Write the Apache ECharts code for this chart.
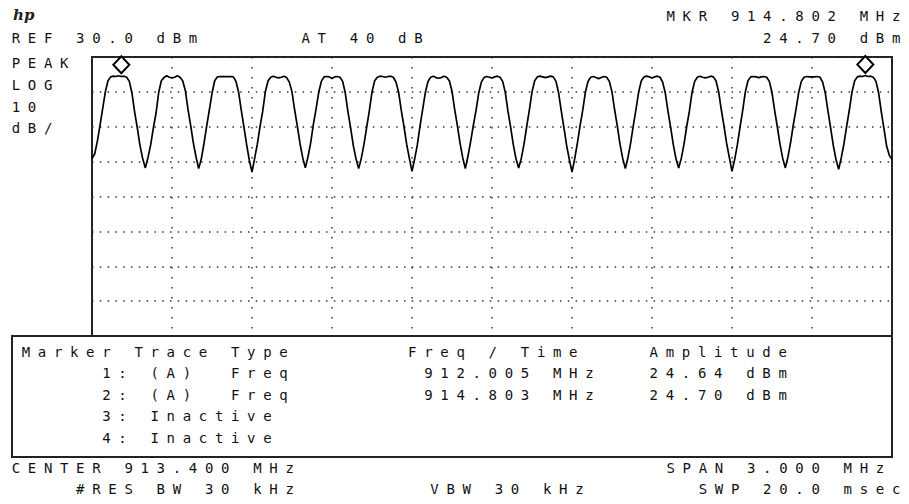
<!DOCTYPE html>
<html>
<head>
<meta charset="utf-8">
<script src="https://cdn.jsdelivr.net/npm/echarts@6/dist/echarts.min.js"></script>
<style>
html, body { margin: 0; padding: 0; background: #fff; }
#chart { width: 909px; height: 504px; }
#chart text { letter-spacing: 7.67px; white-space: pre; }
#chart text[style*="Serif"] { letter-spacing: 0; }
</style>
</head>
<body>
<div id="chart"></div>
<script>
// ---- sweep settings (CENTER 913.400 MHz, SPAN 3.000 MHz) ----
const sweepStartMHz = 911.9;
const sweepStepMHz = 0.01;
const refLevelDbm = 30;
const dbPerDiv = 10;
const verticalDivs = 8;
const horizontalDivs = 10;

// ---- trace amplitude, dBm, one value per 10 kHz from 911.90 to 914.90 MHz ----
const amplitudeDbm = [
  0.9, 2.2, 5.8, 10.4, 15.2, 20.0, 23.2, 24.3, 24.5, 24.4, 24.64, 24.4, 24.5, 24.2, 23.0, 19.6, 14.2, 9.6, 4.6, 0.9,
  -1.8, 1.2, 4.8, 9.6, 13.8, 19.8, 23.2, 24.1, 24.6, 24.2, 24.0, 24.2, 24.6, 24.2, 23.2, 20.4, 15.0, 10.4, 5.4, 1.4,
  -2.0, 0.8, 5.2, 10.2, 14.8, 19.6, 23.2, 24.3, 24.4, 24.4, 24.4, 24.4, 24.4, 24.3, 23.0, 19.8, 14.6, 9.8, 4.8, 0.4,
  -3.0, 1.0, 5.0, 10.0, 14.4, 20.0, 23.1, 24.2, 24.5, 24.2, 24.0, 24.2, 24.5, 24.1, 22.8, 20.0, 14.8, 10.2, 5.2, 1.2,
  -1.8, 1.4, 5.4, 10.6, 15.0, 19.8, 23.0, 24.3, 24.4, 24.3, 23.8, 24.3, 24.4, 24.2, 23.0, 19.6, 14.2, 9.6, 4.6, 0.8,
  -2.0, 1.0, 5.0, 9.8, 14.6, 20.0, 23.2, 24.2, 24.5, 24.4, 24.2, 24.4, 24.5, 24.2, 22.8, 19.8, 14.6, 10.0, 5.0, 1.0,
  -2.8, 0.8, 4.8, 10.2, 15.0, 19.8, 23.0, 24.2, 24.5, 24.1, 23.9, 24.1, 24.5, 24.2, 23.2, 20.2, 15.0, 10.4, 5.4, 1.2,
  -2.0, 1.6, 5.8, 10.4, 14.6, 19.6, 22.8, 24.1, 24.4, 24.2, 24.0, 24.3, 24.5, 24.2, 23.0, 19.8, 14.4, 9.8, 4.8, 0.8,
  -1.8, 1.0, 5.0, 10.0, 14.8, 20.0, 23.2, 24.3, 24.5, 24.3, 24.1, 24.3, 24.5, 24.3, 23.0, 19.6, 14.4, 9.6, 4.6, 0.6,
  -3.0, 0.8, 5.2, 10.2, 14.6, 19.8, 23.0, 24.2, 24.4, 24.1, 23.8, 24.1, 24.4, 24.2, 23.0, 20.0, 14.8, 10.2, 5.0, 1.0,
  -2.0, 1.2, 5.4, 10.4, 15.0, 20.0, 23.2, 24.3, 24.5, 24.3, 24.0, 24.3, 24.5, 24.2, 22.8, 19.6, 14.4, 9.8, 4.8, 0.8,
  -1.8, 1.0, 5.0, 10.0, 14.4, 19.8, 23.0, 24.2, 24.5, 24.2, 24.0, 24.2, 24.5, 24.3, 23.2, 20.0, 14.8, 10.2, 5.2, 1.2,
  -2.8, 0.6, 4.8, 9.8, 14.6, 20.0, 23.2, 24.3, 24.4, 24.3, 24.1, 24.3, 24.4, 24.2, 23.0, 19.8, 14.6, 10.0, 5.0, 1.0,
  -1.8, 1.4, 5.6, 10.6, 15.0, 19.8, 23.0, 24.2, 24.4, 24.3, 24.3, 24.3, 24.4, 24.2, 22.8, 19.6, 14.4, 9.6, 4.6, 0.6,
  -2.2, 1.2, 5.2, 10.2, 14.8, 20.0, 23.2, 24.3, 24.5, 24.4, 24.70, 24.4, 24.5, 24.2, 23.0, 19.6, 14.2, 9.4, 4.4, 1.8,
  0.6
];

// ---- markers ----
const markerFreqMHz = [912.005, 914.803];
const markerAmpDbm = [24.64, 24.70];

// ---- screen annotations ----
const headerTexts = ['REF 30.0 dBm', 'AT 40 dB'];
const markerReadout = ['MKR 914.802 MHz', '24.70 dBm'];
const scaleTexts = ['PEAK', 'LOG', '10', 'dB/'];
const tableHeader = ['Marker', 'Trace', 'Type', 'Freq / Time', 'Amplitude'];
const tableMarkers = ['1:', '2:', '3:', '4:'];
const tableTraces = ['(A)', '(A)', 'Inactive', 'Inactive'];
const tableTypes = ['Freq', 'Freq', '', ''];
const tableFreqs = ['912.005 MHz', '914.803 MHz', '', ''];
const tableAmps = ['24.64 dBm', '24.70 dBm', '', ''];
const footerLeft = ['CENTER 913.400 MHz', '#RES BW 30 kHz'];
const footerMid = ['VBW 30 kHz'];
const footerRight = ['SPAN 3.000 MHz', 'SWP 20.0 msec'];

// ---- build ----
const freqCategories = amplitudeDbm.map((_, i) => (sweepStartMHz + i * sweepStepMHz).toFixed(2));
const pointsPerDiv = (amplitudeDbm.length - 1) / horizontalDivs;
const minDbm = refLevelDbm - dbPerDiv * verticalDivs;

const FONT = '14px "DejaVu Sans Mono"';
const PITCH = 16.1;
const X0 = 11.7;     // screen character grid origin
const XT = 21.7;     // table character grid origin
const XEND = 908;    // right end of right-justified screen text
function txt(s, x, y) {
  return {
    type: 'text', x: x, y: y, z: 100, silent: true,
    style: { text: s, font: FONT, fill: '#111', align: 'left', verticalAlign: 'middle',
             textAlign: 'left', textVerticalAlign: 'middle' }
  };
}
function txtR(s, y, padCols) { return txt(s, XEND - (s.length + (padCols || 0)) * PITCH, y); }
const g = [];
// table box
g.push({ type: 'rect', z: 50, silent: true,
  shape: { x: 12, y: 336, width: 880, height: 121 },
  style: { fill: '#fff', stroke: '#222', lineWidth: 2 } });
// logo
g.push({ type: 'text', x: 13, y: 15, z: 100, silent: true,
  style: { text: 'hp', font: 'italic bold 15px "DejaVu Serif"', fill: '#222',
           align: 'left', verticalAlign: 'middle' } });
// header
g.push(txtR(markerReadout[0], 16));
g.push(txt(headerTexts[0], X0 + 0 * PITCH, 37.5));
g.push(txt(headerTexts[1], X0 + 18 * PITCH, 37.5));
g.push(txtR(markerReadout[1], 37.5));
// scale labels
const scaleY = [62.5, 85, 106.5, 128];
scaleTexts.forEach((s, i) => g.push(txt(s, X0, scaleY[i])));
// table
const rowY = [351.5, 373, 394.5, 416, 437.5];
const hdrCols = [0, 7, 13, 24, 39];
tableHeader.forEach((s, i) => g.push(txt(s, XT + hdrCols[i] * PITCH, rowY[0])));
tableMarkers.forEach((s, i) => {
  const y = rowY[i + 1];
  g.push(txt(s, XT + 5 * PITCH, y));
  g.push(txt(tableTraces[i], XT + 8 * PITCH, y));
  if (tableTypes[i]) g.push(txt(tableTypes[i], XT + 13 * PITCH, y));
  if (tableFreqs[i]) g.push(txt(tableFreqs[i], XT + 25 * PITCH, y));
  if (tableAmps[i]) g.push(txt(tableAmps[i], XT + 39 * PITCH, y));
});
// footer
g.push(txt(footerLeft[0], X0 + 0 * PITCH, 467.5));
g.push(txt(footerLeft[1], X0 + 4 * PITCH, 488.5));
g.push(txt(footerMid[0], X0 + 26 * PITCH, 488.5));
g.push(txtR(footerRight[0], 467.5, 1));
g.push(txtR(footerRight[1], 488.5));

const chart = echarts.init(document.getElementById('chart'), null, { renderer: 'svg' });
chart.setOption({
  animation: false,
  backgroundColor: '#fff',
  grid: { left: 92, top: 57, width: 800, height: 279, show: true,
          borderColor: '#222', borderWidth: 2, backgroundColor: 'transparent' },
  xAxis: {
    type: 'category', data: freqCategories, boundaryGap: false,
    axisLine: { show: false }, axisTick: { show: false }, axisLabel: { show: false },
    splitLine: { show: true, interval: (i) => i % pointsPerDiv === 0,
                 lineStyle: { color: '#333', width: 1.5, type: [1.5, 8.5] } }
  },
  yAxis: {
    type: 'value', min: minDbm, max: refLevelDbm, interval: dbPerDiv,
    axisLine: { show: false }, axisTick: { show: false }, axisLabel: { show: false },
    splitLine: { show: true, lineStyle: { color: '#333', width: 1.5, type: [1.5, 6.3] } }
  },
  series: [{
    type: 'line', data: amplitudeDbm, showSymbol: false, silent: true,
    lineStyle: { color: '#000', width: 1.7 },
    markPoint: {
      symbol: 'diamond', symbolSize: [16, 17], symbolOffset: [0, -11], silent: true,
      itemStyle: { color: '#fff', borderColor: '#000', borderWidth: 2 },
      label: { show: false },
      data: markerFreqMHz.map((f, i) => ({
        coord: [freqCategories[Math.round((f - sweepStartMHz) / sweepStepMHz)], markerAmpDbm[i]]
      }))
    }
  }],
  graphic: g
});
</script>
</body>
</html>
